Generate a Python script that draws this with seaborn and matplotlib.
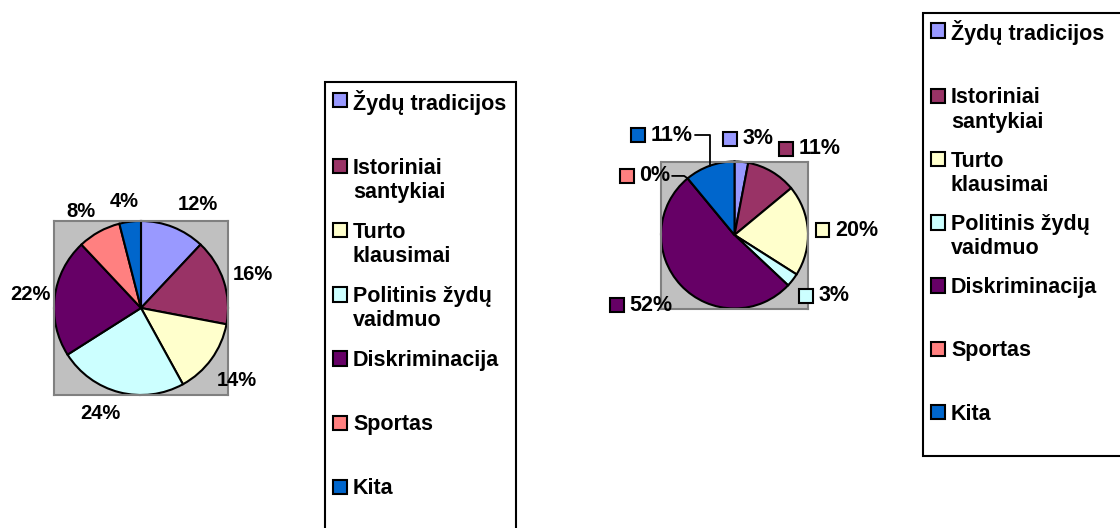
import numpy as np
import matplotlib
matplotlib.use("Agg")
import matplotlib.pyplot as plt
import seaborn as sns
from matplotlib.patches import Rectangle
from matplotlib.legend_handler import HandlerPatch
from matplotlib.offsetbox import AnnotationBbox, DrawingArea, TextArea, HPacker
from matplotlib.font_manager import FontProperties

# ---------------- data ----------------
categories = ["Žydų tradicijos", "Istoriniai santykiai", "Turto klausimai",
              "Politinis žydų vaidmuo", "Diskriminacija", "Sportas", "Kita"]
legend_labels = ["Žydų tradicijos", "Istoriniai\nsantykiai", "Turto\nklausimai",
                 "Politinis žydų\nvaidmuo", "Diskriminacija", "Sportas", "Kita"]
left_values = [12, 16, 14, 24, 22, 8, 4]
right_values = [3, 11, 20, 3, 52, 0, 11]
colors = ["#9999FF", "#993366", "#FFFFCC", "#CCFFFF", "#660066", "#FF8080", "#0066CC"]

# ---------------- style / layout ----------------
sns.set_theme(style="white")
FONTS = ["Liberation Sans", "DejaVu Sans"]
plt.rcParams["font.family"] = FONTS
plt.rcParams["font.weight"] = "bold"
plt.rcParams["text.color"] = "black"

W, H, DPI = 1120, 528, 100
LEG_FS = 15.5
LEFT_LBL_FS = 14.5
RIGHT_LBL_FS = 15.5
PLOT_BG = "#C0C0C0"

# label placement tweaks: (angle offset deg, distance in radii)
left_label_place = [(-7.4, 1.36), (-1.1, 1.34), (-0.9, 1.38), (-6.6, 1.30),
                    (0.0, 1.28), (2.9, 1.31), (1.8, 1.24)]
# right pie: (angle offset deg, distance in radii, leader line angleB)
right_label_place = [(-2.6, 1.32, None), (-10.7, 1.56, None), (-1.1, 1.53, None),
                     (3.8, 1.48, None), (-6.4, 1.59, None), (17.0, 1.46, -35),
                     (16.2, 1.68, 90)]

palette = sns.color_palette(colors)

fig = plt.figure(figsize=(W / DPI, H / DPI), dpi=DPI)
fig.patch.set_facecolor("white")


def px_axes(x0, y0, x1, y1):
    return fig.add_axes([x0 / W, 1 - y1 / H, (x1 - x0) / W, (y1 - y0) / H])


def style_pie_axes(ax):
    ax.set_xlim(-1, 1)
    ax.set_ylim(-1, 1)
    ax.set_aspect("equal")
    ax.set_facecolor(PLOT_BG)
    ax.set_frame_on(True)
    for s in ax.spines.values():
        s.set_visible(True)
        s.set_color("#808080")
        s.set_linewidth(1.5)
    ax.set_xticks([])
    ax.set_yticks([])


def mid_angles(values):
    v = np.array(values, dtype=float)
    mid = np.cumsum(v) - v / 2
    return 90 - 360 * mid / v.sum()


# ---------------- left pie ----------------
ax1 = px_axes(54, 220, 228, 396)
_, _, autotexts = ax1.pie(left_values, colors=palette, startangle=90, counterclock=False,
                          wedgeprops=dict(edgecolor="black", linewidth=1.5, clip_on=False),
                          autopct=lambda p: f"{p:.0f}%", pctdistance=1.33,
                          textprops=dict(fontsize=LEFT_LBL_FS, fontweight="bold",
                                         color="black"))
for txt, ang, (dang, dist) in zip(autotexts, mid_angles(left_values), left_label_place):
    t = np.deg2rad(ang + dang)
    txt.set_position((dist * np.cos(t), dist * np.sin(t)))
style_pie_axes(ax1)

# ---------------- right pie ----------------
ax2 = px_axes(661, 161, 808, 309)
ax2.pie(right_values, colors=palette, startangle=90, counterclock=False,
        wedgeprops=dict(edgecolor="black", linewidth=1.5, clip_on=False))
style_pie_axes(ax2)

for val, col, ang, (dang, dist, angB) in zip(right_values, palette, mid_angles(right_values),
                                             right_label_place):
    da = DrawingArea(10, 10, 0, 0)
    da.add_artist(Rectangle((0, 0), 10, 10, facecolor=col, edgecolor="black", linewidth=1.5))
    ta = TextArea(f"{val}%", textprops=dict(fontsize=RIGHT_LBL_FS, fontweight="bold",
                                            color="black", family=FONTS))
    box = HPacker(children=[da, ta], align="center", pad=0, sep=4)
    t0 = np.deg2rad(ang)
    t1 = np.deg2rad(ang + dang)
    arrow = None
    if angB is not None:
        arrow = dict(arrowstyle="-", color="black", lw=1.3, shrinkA=1, shrinkB=0,
                     connectionstyle=f"angle,angleA=0,angleB={angB},rad=0")
    ab = AnnotationBbox(box, xy=(np.cos(t0), np.sin(t0)),
                        xybox=(dist * np.cos(t1), dist * np.sin(t1)),
                        xycoords="data", boxcoords="data", frameon=False, pad=0,
                        box_alignment=(0.5, 0.5), annotation_clip=False,
                        arrowprops=arrow)
    ax2.add_artist(ab)

# ---------------- legends ----------------
renderer = fig.canvas.get_renderer()
fp = FontProperties(family=FONTS, weight="bold", size=LEG_FS)
_, _, lp_d = renderer.get_text_width_height_descent("lp", fp, ismath=False)
probe = fig.text(0, 0, "lp", fontproperties=fp)
h1 = probe.get_window_extent(renderer).height
probe.set_text("lp\nlp")
h2 = probe.get_window_extent(renderer).height
probe.remove()
# legend centres the handle on a multi-line label; move it to the first line
handle_shift_pts = 0.5 * ((h2 - h1) + lp_d) * 72 / DPI


class SquareHandler(HandlerPatch):
    def __init__(self, shift, **kw):
        super().__init__(**kw)
        self.shift = shift

    def create_artists(self, legend, orig_handle, xdescent, ydescent, width, height,
                       fontsize, trans):
        p = Rectangle((-xdescent, -ydescent + self.shift), width, height,
                      facecolor=orig_handle.get_facecolor(), edgecolor="black",
                      linewidth=1.5, transform=trans)
        return [p]


handles = [Rectangle((0, 0), 1, 1, facecolor=c) for c in palette]
padded = [lab if "\n" in lab else lab + "\n" for lab in legend_labels]


def add_legend(x, y, width, spacing):
    leg = fig.legend(handles, padded, loc="upper left", mode="expand",
                     bbox_to_anchor=(x / W, 1 - y / H, width / W, 0),
                     bbox_transform=fig.transFigure,
                     frameon=True, fancybox=False, shadow=False, edgecolor="black",
                     framealpha=1, borderpad=0.35, borderaxespad=0,
                     handlelength=0.65, handleheight=0.65, handletextpad=0.3,
                     labelspacing=spacing, prop=fp,
                     handler_map={Rectangle: SquareHandler(handle_shift_pts)})
    leg.get_frame().set_linewidth(1.5)
    for t in leg.get_texts():
        t.set_color("black")
    return leg


add_legend(325, 82, 191, 0.88)
add_legend(923, 12.5, 210, 0.84)

fig.savefig("out.png", dpi=DPI, facecolor="white")
